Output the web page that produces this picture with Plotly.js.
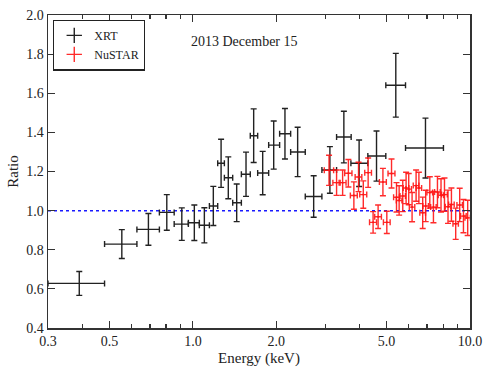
<!DOCTYPE html>
<html>
<head>
<meta charset="utf-8">
<script src="https://cdn.plot.ly/plotly-3.0.1.min.js"></script>
<style>
  html, body { margin: 0; padding: 0; background: #fff; }
  #chart { width: 491px; height: 370px; }
</style>
</head>
<body>
<div id="chart"></div>
<script>
// --- XRT ratio points (energy bins in keV) ---
const xrtEnergy = [0.389, 0.554, 0.691, 0.805, 0.912, 1.012, 1.100, 1.185, 1.264, 1.342, 1.439, 1.555,
                   1.657, 1.786, 1.957, 2.149, 2.388, 2.728, 3.122, 3.506, 3.98, 4.599, 5.398, 6.908];
const xrtBinLo  = [0.30, 0.48, 0.628, 0.757, 0.856, 0.963, 1.055, 1.147, 1.229, 1.299, 1.392, 1.496,
                   1.611, 1.713, 1.877, 2.056, 2.253, 2.544, 2.921, 3.300, 3.717, 4.279, 4.968, 5.852];
const xrtBinHi  = [0.48, 0.628, 0.757, 0.856, 0.963, 1.055, 1.147, 1.229, 1.299, 1.392, 1.496, 1.611,
                   1.713, 1.877, 2.056, 2.253, 2.544, 2.921, 3.300, 3.725, 4.279, 4.968, 5.852, 8.02];
const xrtRatio  = [0.628, 0.829, 0.904, 0.991, 0.931, 0.938, 0.925, 1.024, 1.242, 1.168, 1.040, 1.186,
                   1.383, 1.192, 1.335, 1.393, 1.300, 1.072, 1.208, 1.376, 1.242, 1.279, 1.641, 1.320];
const xrtErr    = [0.061, 0.074, 0.081, 0.091, 0.083, 0.091, 0.090, 0.100, 0.123, 0.107, 0.096, 0.113,
                   0.137, 0.111, 0.123, 0.129, 0.126, 0.106, 0.119, 0.132, 0.119, 0.128, 0.163, 0.153];

// --- NuSTAR ratio points ---
const nuEnergy = [3.10, 3.30, 3.47, 3.64, 3.81, 3.96, 4.12, 4.29, 4.47, 4.66, 4.85, 5.01, 5.21, 5.43, 5.55, 5.72, 5.88,
                  6.01, 6.18, 6.39, 6.54, 6.75, 6.92, 7.16, 7.38, 7.63, 7.86, 8.09, 8.33, 8.57, 8.88, 9.18, 9.47, 9.81];
const nuEnergyErr = [0.12, 0.10, 0.10, 0.11, 0.11, 0.11, 0.12, 0.12, 0.13, 0.13, 0.14, 0.14, 0.15, 0.13, 0.13, 0.13, 0.14,
                     0.14, 0.14, 0.15, 0.15, 0.16, 0.16, 0.17, 0.17, 0.18, 0.18, 0.19, 0.19, 0.20, 0.20, 0.21, 0.22, 0.22];
const nuRatio  = [1.206, 1.143, 1.143, 1.191, 1.077, 1.172, 1.082, 1.194, 0.940, 0.969, 1.146, 0.940, 1.190, 1.068, 1.052,
                  1.075, 1.116, 1.110, 1.018, 1.128, 1.116, 0.989, 1.024, 1.093, 1.018, 1.095, 1.078, 1.082, 1.020, 1.031,
                  0.933, 1.029, 0.972, 0.963];
const nuErr    = [0.077, 0.065, 0.065, 0.070, 0.070, 0.075, 0.070, 0.075, 0.055, 0.060, 0.070, 0.057, 0.074, 0.075, 0.075,
                  0.080, 0.080, 0.080, 0.075, 0.080, 0.080, 0.080, 0.080, 0.080, 0.080, 0.080, 0.085, 0.085, 0.085, 0.085,
                  0.080, 0.085, 0.085, 0.090];

// --- axis ticks ---
const xTickVals  = [0.3, 0.5, 1, 2, 5, 10];
const xTickText  = ['0.3', '0.5', '1.0', '2.0', '5.0', '10.0'];
const xMinorVals = [0.4, 0.6, 0.7, 0.8, 0.9, 3, 4, 6, 7, 8, 9];
const yTickVals  = [0.4, 0.6, 0.8, 1.0, 1.2, 1.4, 1.6, 1.8, 2.0];

const FONT = 'Liberation Serif, DejaVu Serif, serif';
const XRT_COLOR = '#222222';
const NU_COLOR = 'rgba(255,20,20,0.9)';

const traces = [
    {
        x: xrtEnergy, y: xrtRatio, type: 'scatter', mode: 'markers', showlegend: false,
        marker: { size: 1, color: XRT_COLOR },
        error_y: { type: 'data', array: xrtErr, color: XRT_COLOR, thickness: 1.4, width: 3 },
        error_x: {
            type: 'data', symmetric: false,
            array: xrtEnergy.map((e, i) => xrtBinHi[i] - e),
            arrayminus: xrtEnergy.map((e, i) => e - xrtBinLo[i]),
            color: XRT_COLOR, thickness: 1.4, width: 3
        }
    },
    {
        x: nuEnergy, y: nuRatio, type: 'scatter', mode: 'markers', showlegend: false,
        marker: { size: 2, color: NU_COLOR },
        error_y: { type: 'data', array: nuErr, color: NU_COLOR, thickness: 1.4, width: 3 },
        error_x: { type: 'data', array: nuEnergyErr, color: NU_COLOR, thickness: 1.4, width: 3 }
    },
    // legend entries only
    {
        x: [null], y: [null], type: 'scatter', mode: 'markers', name: 'XRT',
        marker: { symbol: 'cross-thin-open', size: 11, color: XRT_COLOR, line: { color: XRT_COLOR, width: 1.4 } }
    },
    {
        x: [null], y: [null], type: 'scatter', mode: 'markers', name: 'NuSTAR',
        marker: { symbol: 'cross-thin-open', size: 11, color: NU_COLOR, line: { color: NU_COLOR, width: 1.4 } }
    }
];

const layout = {
    width: 491, height: 370,
    margin: { l: 48, r: 21, t: 15, b: 42 },
    paper_bgcolor: '#fff', plot_bgcolor: '#fff',
    font: { family: FONT, size: 13, color: '#222' },
    showlegend: true,
    legend: {
        x: 0.012, y: 0.985, xanchor: 'left', yanchor: 'top',
        bgcolor: '#fff', bordercolor: '#222', borderwidth: 1.2,
        font: { family: FONT, size: 12, color: '#222' },
        itemwidth: 30, tracegroupgap: 0
    },
    xaxis: {
        type: 'log', range: [Math.log10(0.3), 1],
        tickmode: 'array', tickvals: xTickVals, ticktext: xTickText,
        ticks: 'inside', ticklen: 7, tickwidth: 1.2, tickcolor: '#333',
        minor: { tickmode: 'array', tickvals: xMinorVals, ticks: 'inside', ticklen: 4, tickwidth: 1.2, tickcolor: '#333', showgrid: false },
        showline: true, linecolor: '#333', linewidth: 1.5, mirror: 'ticks',
        showgrid: false, zeroline: false,
        tickfont: { family: FONT, size: 14 },
        title: { text: 'Energy (keV)', font: { family: FONT, size: 15 }, standoff: 4 }
    },
    yaxis: {
        range: [0.4, 2.0],
        tickmode: 'array', tickvals: yTickVals, ticktext: yTickVals.map(v => v.toFixed(1)),
        ticks: 'inside', ticklen: 7, tickwidth: 1.2, tickcolor: '#333',
        showline: true, linecolor: '#333', linewidth: 1.5, mirror: 'ticks',
        showgrid: false, zeroline: false,
        tickfont: { family: FONT, size: 14 },
        title: { text: 'Ratio', font: { family: FONT, size: 15 }, standoff: 4 }
    },
    shapes: [{
        type: 'line', xref: 'paper', x0: 0, x1: 1, yref: 'y', y0: 1, y1: 1,
        line: { color: '#1a1aff', width: 1.5, dash: 'dot' }, layer: 'below'
    }],
    annotations: [{
        text: '2013 December 15', xref: 'paper', yref: 'paper', x: 0.465, y: 0.915,
        xanchor: 'center', yanchor: 'middle', showarrow: false,
        font: { family: FONT, size: 14, color: '#222' }
    }]
};

Plotly.newPlot('chart', traces, layout, { staticPlot: true, displayModeBar: false });
</script>
</body>
</html>
